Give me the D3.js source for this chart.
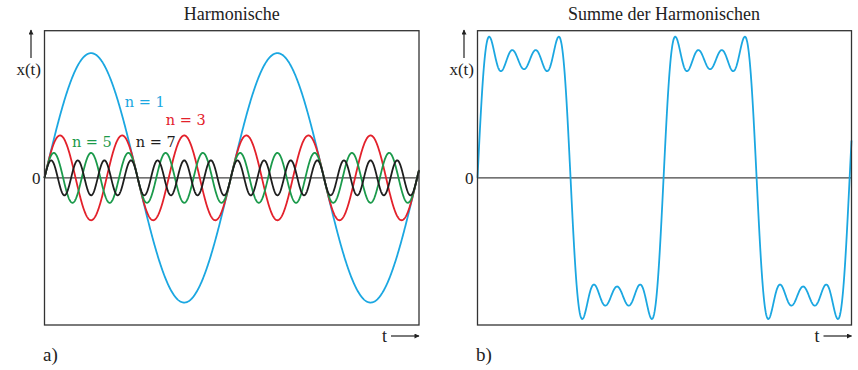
<!DOCTYPE html>
<html>
<head>
<meta charset="utf-8">
<style>
  body { margin: 0; background: #fff; }
  svg { display: block; }
  text { font-family: "Liberation Serif", "DejaVu Serif", serif; fill: #222; }
</style>
</head>
<body>
<svg id="chart" width="858" height="370"></svg>
<script src="https://d3js.org/d3.v7.min.js"></script>
<script>
    // harmonic orders and their amplitudes (relative to n = 1)
    const harmonics = [1, 3, 5, 7];
    const amplitudes = [1, 0.34, 0.2, 0.14];
    const harmonicLabels = ["n = 1", "n = 3", "n = 5", "n = 7"];
    const harmonicColors = ["#1ba7e1", "#e3212b", "#1b9a4b", "#1e1e1e"];
    // label anchors in data units: [t in periods, x(t)]
    const labelAt = [[0.431, 0.566], [0.651, 0.422], [0.147, 0.246], [0.490, 0.246]];

    const periods = 2.01;          // length of the t axis, in periods of n = 1
    const leftYDomain = [-1.18, 1.18];
    const rightYDomain = [-0.975, 0.975];
    const titles = ["Harmonische", "Summe der Harmonischen"];
    const panelTags = ["a)", "b)"];

    const svg = d3.select("#chart");
    const plotTop = 30.7, plotBottom = 325;
    const panels = [
        { x0: 44.5, x1: 419, yDomain: leftYDomain },
        { x0: 477.5, x1: 851.5, yDomain: rightYDomain },
    ];

    const defs = svg.append("defs");
    defs.append("marker")
        .attr("id", "arrow")
        .attr("viewBox", "0 0 10 10")
        .attr("refX", 9).attr("refY", 5)
        .attr("markerWidth", 7).attr("markerHeight", 5)
        .attr("markerUnits", "userSpaceOnUse")
        .attr("orient", "auto")
        .append("path")
        .attr("d", "M0,0 L10,5 L0,10 Z")
        .attr("fill", "#222");

    const samples = d3.range(0, 1201).map(i => i / 1200 * periods);
    const wave = (n, a) => t => a * Math.sin(2 * Math.PI * n * t);

    panels.forEach((p, i) => {
        const x = d3.scaleLinear().domain([0, periods]).range([p.x0, p.x1]);
        const y = d3.scaleLinear().domain(p.yDomain).range([plotBottom, plotTop]);
        const g = svg.append("g");

        // title
        g.append("text")
            .attr("x", (p.x0 + p.x1) / 2 + (i ? -0.5 : 0))
            .attr("y", 20)
            .attr("text-anchor", "middle")
            .attr("font-size", 18)
            .text(titles[i]);

        // zero line
        g.append("line")
            .attr("x1", p.x0).attr("x2", p.x1)
            .attr("y1", y(0)).attr("y2", y(0))
            .attr("stroke", "#444").attr("stroke-width", 1.2);

        const line = d3.line()
            .x(d => x(d[0]))
            .y(d => y(d[1]));

        if (i === 0) {
            harmonics.forEach((n, k) => {
                const f = wave(n, amplitudes[k]);
                g.append("path")
                    .datum(samples.map(t => [t, f(t)]))
                    .attr("fill", "none")
                    .attr("stroke", harmonicColors[k])
                    .attr("stroke-width", 1.8)
                    .attr("d", line);
            });
            harmonicLabels.forEach((lab, k) => {
                g.append("text")
                    .attr("x", x(labelAt[k][0]))
                    .attr("y", y(labelAt[k][1]))
                    .attr("font-size", 14.5)
                    .style("font-family", "'DejaVu Serif', serif")
                    .style("fill", harmonicColors[k])
                    .text(lab);
            });
        } else {
            const fs = harmonics.map((n, k) => wave(n, amplitudes[k]));
            g.append("path")
                .datum(samples.map(t => [t, d3.sum(fs, f => f(t))]))
                .attr("fill", "none")
                .attr("stroke", harmonicColors[0])
                .attr("stroke-width", 1.8)
                .attr("d", line);
        }

        // frame
        g.append("rect")
            .attr("x", p.x0).attr("y", plotTop)
            .attr("width", p.x1 - p.x0).attr("height", plotBottom - plotTop)
            .attr("fill", "none")
            .attr("stroke", "#333").attr("stroke-width", 1.3);

        // y label with arrow
        g.append("line")
            .attr("x1", p.x0 - 13.5).attr("x2", p.x0 - 13.5)
            .attr("y1", 58).attr("y2", 30)
            .attr("stroke", "#222").attr("stroke-width", 1.2)
            .attr("marker-end", "url(#arrow)");
        g.append("text")
            .attr("x", p.x0 - 3.5).attr("y", 75)
            .attr("text-anchor", "end")
            .attr("font-size", 17)
            .text("x(t)");
        g.append("text")
            .attr("x", p.x0 - 4).attr("y", y(0) + 6)
            .attr("text-anchor", "end")
            .attr("font-size", 17)
            .text("0");

        // t label with arrow
        g.append("text")
            .attr("x", p.x1 - 32).attr("y", 342)
            .attr("text-anchor", "end")
            .attr("font-size", 18)
            .text("t");
        g.append("line")
            .attr("x1", p.x1 - 28).attr("x2", p.x1)
            .attr("y1", 336).attr("y2", 336)
            .attr("stroke", "#222").attr("stroke-width", 1.2)
            .attr("marker-end", "url(#arrow)");

        // panel tag
        g.append("text")
            .attr("x", p.x0 - 1.5).attr("y", 361)
            .attr("font-size", 19)
            .text(panelTags[i]);
    });
</script>
</body>
</html>
